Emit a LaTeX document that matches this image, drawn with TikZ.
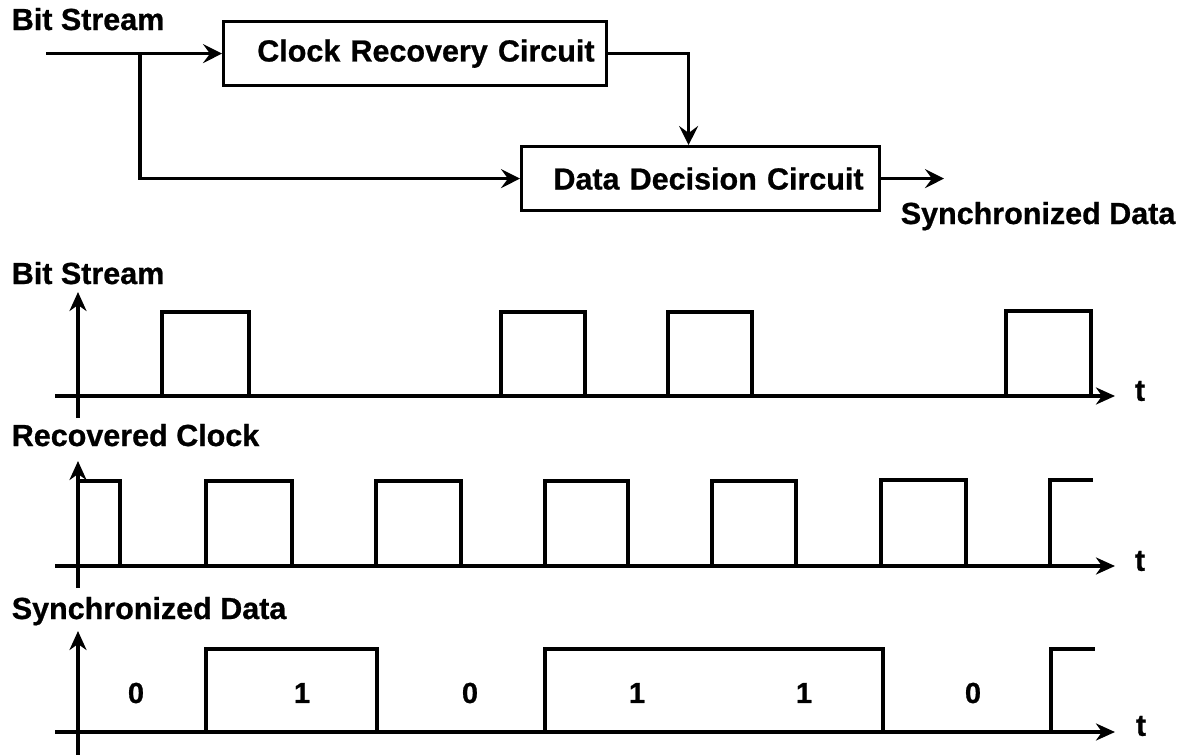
\documentclass[tikz,border=0pt]{standalone}
\usepackage{fontspec}
\setmainfont{Liberation Sans}[BoldFeatures={FakeBold=0.8}]
\usetikzlibrary{arrows.meta}
\begin{document}
\begin{tikzpicture}[x=1pt,y=-1pt,line width=3.6pt,
  every node/.style={font=\bfseries\fontsize{30.5}{36}\selectfont,inner sep=0pt},
  blk/.style={draw,line width=3.2pt,align=right,minimum height=64pt},
  lbl/.style={anchor=base west},
  arr/.style={-{Stealth[length=19pt,width=19pt,inset=7pt]}},
  axisarr/.style={-{Stealth[length=19pt,width=17pt,inset=6pt]}},
  wave/.style={line width=3.6pt,line join=miter},
  bit/.style={font=\bfseries\fontsize{29}{34}\selectfont}]
\useasboundingbox (0,0) rectangle (1179,755);

% ---------- block diagram ----------
\node[lbl] (bsin) at (10,30) {Bit Stream};
\node[blk,anchor=north west,inner xsep=12pt,text width=359pt] (crc) at (222,20)
  {Clock Recovery Circuit};
\node[blk,anchor=north west,inner xsep=16pt,text width=326pt] (ddc) at (520,145)
  {Data Decision Circuit};
\node[lbl] (sdout) at (899,224) {Synchronized Data};

\coordinate (in) at (46,0 |- crc.west);
\coordinate (br) at (140,0 |- crc.west);
\coordinate (out) at (944,0 |- ddc.east);
\coordinate (clkin) at ([xshift=-12pt]ddc.north);

\draw[arr] (in) -- (crc.west);
\draw[arr] (br) |- (ddc.west);
\draw[arr] (crc.east) -| (clkin);
\draw[arr] (ddc.east) -- (out);

% ---------- timing: bit stream ----------
\node[lbl] (lbs) at (10,284) {Bit Stream};
\coordinate (a1b) at (78,418); \coordinate (a1t) at (78,292);
\coordinate (t1l) at (55,396); \coordinate (t1r) at (1115,396);
\draw[axisarr] (a1b) -- (a1t);
\draw[axisarr] (t1l) -- (t1r);
\node (t1) at (1140,391) {t};
\draw[wave] (162,396) -- (162,312) -- (249,312) -- (249,396);
\draw[wave] (501,396) -- (501,312) -- (585,312) -- (585,396);
\draw[wave] (668,396) -- (668,312) -- (752,312) -- (752,396);
\draw[wave] (1006,396) -- (1006,311) -- (1091,311) -- (1091,396);

% ---------- timing: recovered clock ----------
\node[lbl] (lrc) at (10,446) {Recovered Clock};
\coordinate (a2b) at (78,588); \coordinate (a2t) at (78,461);
\coordinate (t2l) at (55,566); \coordinate (t2r) at (1115,566);
\draw[axisarr] (a2b) -- (a2t);
\draw[axisarr] (t2l) -- (t2r);
\node (t2) at (1140,561) {t};
\draw[wave] (78,481) -- (120,481) -- (120,566);
\draw[wave] (206,566) -- (206,481) -- (292,481) -- (292,566);
\draw[wave] (376,566) -- (376,481) -- (461,481) -- (461,566);
\draw[wave] (545,566) -- (545,481) -- (628,481) -- (628,566);
\draw[wave] (712,566) -- (712,481) -- (796,481) -- (796,566);
\draw[wave] (881,566) -- (881,480) -- (966,480) -- (966,566);
\draw[wave] (1050,566) -- (1050,480) -- (1093,480);

% ---------- timing: synchronized data ----------
\node[lbl] (lsd) at (10,619) {Synchronized Data};
\coordinate (a3b) at (78,755); \coordinate (a3t) at (78,631);
\coordinate (t3l) at (55,732); \coordinate (t3r) at (1115,732);
\draw[axisarr] (a3b) -- (a3t);
\draw[axisarr] (t3l) -- (t3r);
\node (t3) at (1141,726) {t};
\draw[wave] (206,732) -- (206,649) -- (377,649) -- (377,732);
\draw[wave] (545,732) -- (545,649) -- (883,649) -- (883,732);
\draw[wave] (1051,732) -- (1051,649) -- (1095,649);
\node[bit] (b1) at (136,693) {0};
\node[bit] (b2) at (302,693) {1};
\node[bit] (b3) at (470,693) {0};
\node[bit] (b4) at (637,693) {1};
\node[bit] (b5) at (804,693) {1};
\node[bit] (b6) at (973,693) {0};
\end{tikzpicture}
\end{document}
